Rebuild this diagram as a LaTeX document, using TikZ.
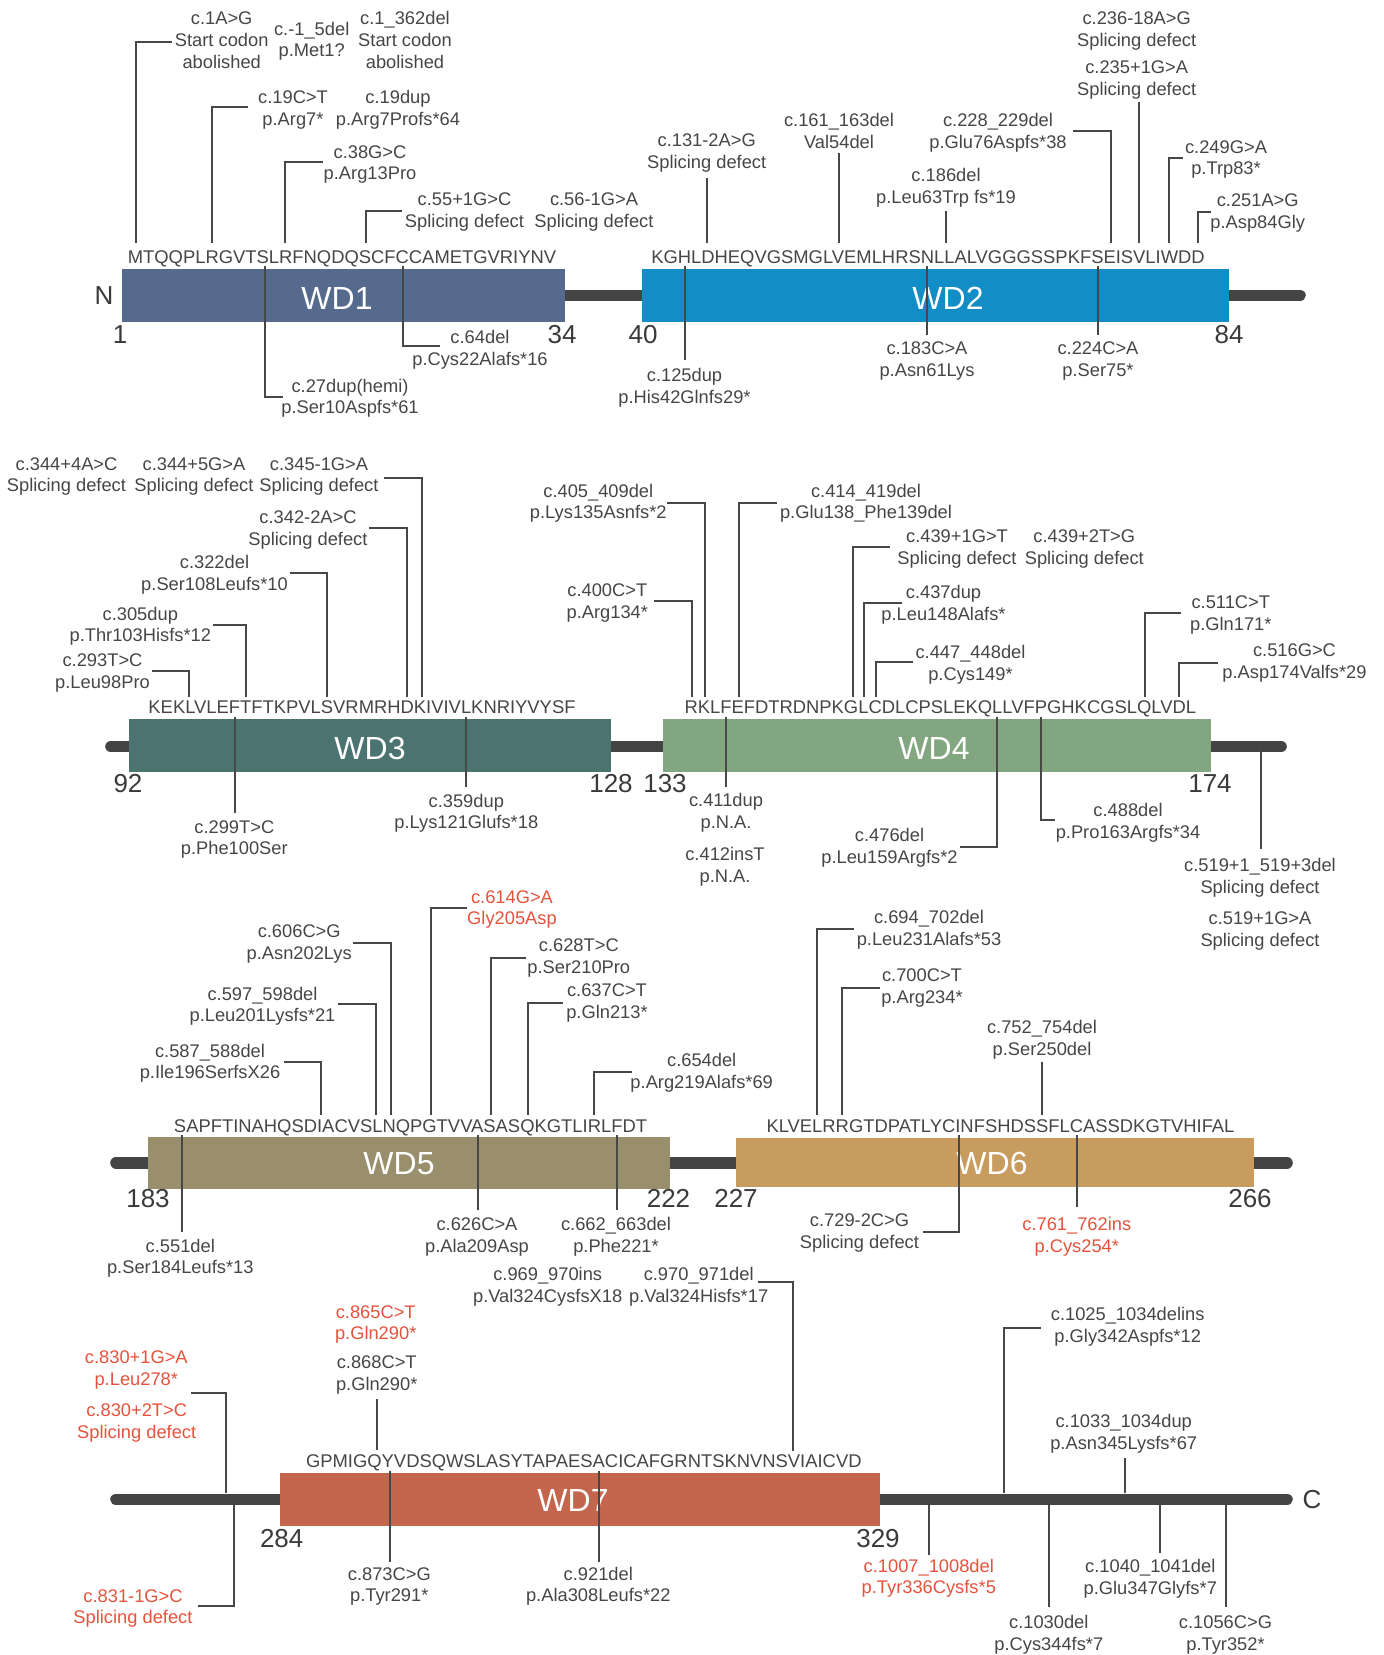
\documentclass[tikz,border=0pt]{standalone}
\usepackage{fontspec}
\setmainfont{Liberation Sans}
\definecolor{txt}{HTML}{464646}
\definecolor{numc}{HTML}{3A3A3A}
\definecolor{redt}{HTML}{E5533D}
\definecolor{bbc}{HTML}{444444}
\definecolor{clc}{HTML}{474747}
\definecolor{wdA}{HTML}{566A8E}
\definecolor{wdB}{HTML}{128DC5}
\definecolor{wdC}{HTML}{4B7471}
\definecolor{wdD}{HTML}{82A780}
\definecolor{wdE}{HTML}{9A8F6C}
\definecolor{wdF}{HTML}{C89C5F}
\definecolor{wdG}{HTML}{C4664D}
\newcommand{\ms}{\rule[-2.2pt]{0pt}{10.8pt}}
\newcommand{\cn}[4]{\coordinate (#1a) at (#2); \coordinate (#1b) at (#3); \draw[conn] (#1a) #4 (#1b);}
\begin{document}
\begin{tikzpicture}[x=0.5pt,y=-0.5pt,
  lbl/.style={font=\fontsize{9.15}{10.85}\selectfont, align=center, inner sep=0pt, text=txt},
  rlbl/.style={lbl, text=redt},
  seq/.style={font=\fontsize{9.2}{10.85}\selectfont, inner sep=0pt, text=txt},
  dom/.style={font=\fontsize{16}{18}\selectfont, text=white, inner sep=0pt},
  num/.style={font=\fontsize{13}{15}\selectfont, text=numc, inner sep=0pt},
  conn/.style={draw=clc, line width=1pt},
  backbone/.style={draw=bbc, line width=5.8pt, line cap=round}]
\useasboundingbox (0,0) rectangle (1384,1655);
\fill[white] (0,0) rectangle (1384,1655);

% ---------------- backbones and domains
\draw[backbone] (560,295.3) -- (1300,295.3);
\draw[backbone] (111,746.5) -- (1281,746.5);
\draw[backbone] (116,1162.7) -- (1287,1162.7);
\draw[backbone] (116,1499.3) -- (1287,1499.3);

\fill[wdA] (122,269) rectangle (565,322);
\fill[wdB] (642.3,269) rectangle (1229,322);
\fill[wdC] (129,719) rectangle (611,771.7);
\fill[wdD] (663.3,719) rectangle (1211,771.7);
\fill[wdE] (148.3,1137.3) rectangle (670,1189.3);
\fill[wdF] (735.7,1138.3) rectangle (1254,1187.3);
\fill[wdG] (280,1472.7) rectangle (880,1525.7);

\node[dom] (wd1) at (337,298) {WD1};
\node[dom] (wd2) at (948,298) {WD2};
\node[dom] (wd3) at (370,748) {WD3};
\node[dom] (wd4) at (934,748) {WD4};
\node[dom] (wd5) at (399,1163.3) {WD5};
\node[dom] (wd6) at (992,1163.3) {WD6};
\node[dom] (wd7) at (573,1500.7) {WD7};

\node[num] (nN) at (104,295.5) {N};
\node[num] (nC) at (1312,1499.3) {C};
\node[num] (n1) at (120,335) {1};
\node[num] (n34) at (562,335) {34};
\node[num] (n40) at (643,335) {40};
\node[num] (n84) at (1229,335) {84};
\node[num] (n92) at (128,783.3) {92};
\node[num] (n128) at (611,783.3) {128};
\node[num] (n133) at (665,783.3) {133};
\node[num] (n174) at (1210,783.3) {174};
\node[num] (n183) at (148,1198.5) {183};
\node[num] (n222) at (668.5,1198.5) {222};
\node[num] (n227) at (736,1198.5) {227};
\node[num] (n266) at (1250,1198.5) {266};
\node[num] (n284) at (281.7,1538.3) {284};
\node[num] (n329) at (878,1538.3) {329};

% ---------------- sequences
\node[seq] (sq1) at (342,257) {\ms MTQQPLRGVTSLRFNQDQSCFCCAMETGVRIYNV};
\node[seq] (sq2) at (928,257) {\ms KGHLDHEQVGSMGLVEMLHRSNLLALVGGGSSPKFSEISVLIWDD};
\node[seq] (sq3) at (362,707.3) {\ms KEKLVLEFTFTKPVLSVRMRHDKIVIVLKNRIYVYSF};
\node[seq] (sq4) at (940.3,707.3) {\ms RKLFEFDTRDNPKGLCDLCPSLEKQLLVFPGHKCGSLQLVDL};
\node[seq] (sq5) at (410.5,1126) {\ms SAPFTINAHQSDIACVSLNQPGTVVASASQKGTLIRLFDT};
\node[seq] (sq6) at (1000.5,1126) {\ms KLVELRRGTDPATLYCINFSHDSSFLCASSDKGTVHIFAL};
\node[seq] (sq7) at (583.8,1460.7) {\ms GPMIGQYVDSQWSLASYTAPAESACICAFGRNTSKNVNSVIAICVD};

% ---------------- row 1 labels
\node[lbl] (a1) at (221.7,40) {\ms c.1A>G\\\ms Start codon\\\ms abolished};
\node[lbl] (a2) at (311.7,39.5) {\ms c.-1\_5del\\\ms p.Met1?};
\node[lbl] (a3) at (405,40) {\ms c.1\_362del\\\ms Start codon\\\ms abolished};
\node[lbl] (a4) at (293,108.3) {\ms c.19C>T\\\ms p.Arg7*};
\node[lbl] (a5) at (398,108.3) {\ms c.19dup\\\ms p.Arg7Profs*64};
\node[lbl] (a6) at (370,162.5) {\ms c.38G>C\\\ms p.Arg13Pro};
\node[lbl] (a7) at (464.5,210) {\ms c.55+1G>C\\\ms Splicing defect};
\node[lbl] (a8) at (594,210) {\ms c.56-1G>A\\\ms Splicing defect};
\node[lbl] (a9) at (706.7,151.2) {\ms c.131-2A>G\\\ms Splicing defect};
\node[lbl] (a10) at (839,130.8) {\ms c.161\_163del\\\ms Val54del};
\node[lbl] (a11) at (946,185.8) {\ms c.186del\\\ms p.Leu63Trp fs*19};
\node[lbl] (a12) at (998,130.8) {\ms c.228\_229del\\\ms p.Glu76Aspfs*38};
\node[lbl] (a13) at (1136.7,29.2) {\ms c.236-18A>G\\\ms Splicing defect};
\node[lbl] (a14) at (1136.7,77.8) {\ms c.235+1G>A\\\ms Splicing defect};
\node[lbl] (a15) at (1226,157.5) {\ms c.249G>A\\\ms p.Trp83*};
\node[lbl] (a16) at (1257.7,210.8) {\ms c.251A>G\\\ms p.Asp84Gly};
\node[lbl] (a17) at (350,396.7) {\ms c.27dup(hemi)\\\ms p.Ser10Aspfs*61};
\node[lbl] (a18) at (480,347.8) {\ms c.64del\\\ms p.Cys22Alafs*16};
\node[lbl] (a19) at (684.5,386.2) {\ms c.125dup\\\ms p.His42Glnfs29*};
\node[lbl] (a20) at (927,359.2) {\ms c.183C>A\\\ms p.Asn61Lys};
\node[lbl] (a21) at (1098,359.2) {\ms c.224C>A\\\ms p.Ser75*};

% row 1 connectors
\cn{ca1}{135.7,243}{171.7,41.7}{|-}
\cn{ca4}{211.7,243}{248.3,106.7}{|-}
\cn{ca6}{285,243}{322.7,162.3}{|-}
\cn{ca7}{365.7,243}{402.3,210.7}{|-}
\cn{ca9}{706.7,243}{706.7,178.3}{--}
\cn{ca10}{839,243}{839,153.3}{--}
\cn{ca11}{946,243}{946,211}{--}
\cn{ca12}{1111,243}{1073.3,131}{|-}
\cn{ca14}{1139,243}{1139,102.3}{--}
\cn{ca15}{1169,243}{1183.3,157.7}{|-}
\cn{ca16}{1197.7,243}{1210.7,211.7}{|-}
\cn{ca17}{265,266}{283.3,396.7}{|-}
\cn{ca18}{402.7,266}{440,345.7}{|-}
\cn{ca19}{685,266}{685,360}{--}
\cn{ca20}{926.7,266}{926.7,335}{--}
\cn{ca21}{1098.3,266}{1098.3,335}{--}

% ---------------- row 2 labels
\node[lbl] (b1) at (66.5,474.5) {\ms c.344+4A>C\\\ms Splicing defect};
\node[lbl] (b2) at (194,474.5) {\ms c.344+5G>A\\\ms Splicing defect};
\node[lbl] (b3) at (319,474.5) {\ms c.345-1G>A\\\ms Splicing defect};
\node[lbl] (b4) at (308,527.8) {\ms c.342-2A>C\\\ms Splicing defect};
\node[lbl] (b5) at (214.5,572.8) {\ms c.322del\\\ms p.Ser108Leufs*10};
\node[lbl] (b6) at (140.3,624.5) {\ms c.305dup\\\ms p.Thr103Hisfs*12};
\node[lbl] (b7) at (102.5,670.8) {\ms c.293T>C\\\ms p.Leu98Pro};
\node[lbl] (b8) at (598.3,501.7) {\ms c.405\_409del\\\ms p.Lys135Asnfs*2};
\node[lbl] (b9) at (607.3,600.8) {\ms c.400C>T\\\ms p.Arg134*};
\node[lbl] (b10) at (866,501.7) {\ms c.414\_419del\\\ms p.Glu138\_Phe139del};
\node[lbl] (b11) at (957,547.2) {\ms c.439+1G>T\\\ms Splicing defect};
\node[lbl] (b12) at (1084.3,547.2) {\ms c.439+2T>G\\\ms Splicing defect};
\node[lbl] (b13) at (943.5,602.8) {\ms c.437dup\\\ms p.Leu148Alafs*};
\node[lbl] (b14) at (970.5,663.3) {\ms c.447\_448del\\\ms p.Cys149*};
\node[lbl] (b15) at (1230.8,612.8) {\ms c.511C>T\\\ms p.Gln171*};
\node[lbl] (b16) at (1294.5,660.8) {\ms c.516G>C\\\ms p.Asp174Valfs*29};
\node[lbl] (b17) at (234.3,837.5) {\ms c.299T>C\\\ms p.Phe100Ser};
\node[lbl] (b18) at (466.3,811.7) {\ms c.359dup\\\ms p.Lys121Glufs*18};
\node[lbl] (b19) at (726,811.2) {\ms c.411dup\\\ms p.N.A.};
\node[lbl] (b20) at (725,864.8) {\ms c.412insT\\\ms p.N.A.};
\node[lbl] (b21) at (889.5,845.8) {\ms c.476del\\\ms p.Leu159Argfs*2};
\node[lbl] (b22) at (1128,820.8) {\ms c.488del\\\ms p.Pro163Argfs*34};
\node[lbl] (b23) at (1260,875.8) {\ms c.519+1\_519+3del\\\ms Splicing defect};
\node[lbl] (b24) at (1260,929.2) {\ms c.519+1G>A\\\ms Splicing defect};

% row 2 connectors
\cn{cb3}{421.7,696.7}{384.3,477.7}{|-}
\cn{cb4}{406.7,696.7}{369.3,527.7}{|-}
\cn{cb5}{326.7,696.7}{290,572.7}{|-}
\cn{cb6}{245.7,696.7}{213.3,625}{|-}
\cn{cb7}{189,696.7}{152.3,670.7}{|-}
\cn{cb8}{705,696.7}{667.3,503.3}{|-}
\cn{cb9}{691.7,696.7}{654,600.7}{|-}
\cn{cb10}{739,696.7}{776.7,503.3}{|-}
\cn{cb11}{852.7,696.7}{890,547.3}{|-}
\cn{cb13}{864.3,696.7}{901.7,602.7}{|-}
\cn{cb14}{875.7,696.7}{912.7,662.3}{|-}
\cn{cb15}{1145,696.7}{1181,613.3}{|-}
\cn{cb16}{1179,696.7}{1217.7,662.7}{|-}
\cn{cb17}{235,716.7}{235,813.3}{--}
\cn{cb18}{465.7,716.7}{465.7,786.7}{--}
\cn{cb19}{726,716.7}{726,786.7}{--}
\cn{cb21}{996.7,716.7}{960,847.3}{|-}
\cn{cb22}{1041,716.7}{1055,820}{|-}
\cn{cb23}{1261,746.3}{1261,849.3}{--}

% ---------------- row 3 labels
\node[lbl] (c1) at (299.2,941.8) {\ms c.606C>G\\\ms p.Asn202Lys};
\node[lbl] (c2) at (262.5,1004.5) {\ms c.597\_598del\\\ms p.Leu201Lysfs*21};
\node[lbl] (c3) at (210,1061.7) {\ms c.587\_588del\\\ms p.Ile196SerfsX26};
\node[rlbl] (c4) at (512,907.5) {\ms c.614G>A\\\ms Gly205Asp};
\node[lbl] (c5) at (578.8,955.8) {\ms c.628T>C\\\ms p.Ser210Pro};
\node[lbl] (c6) at (607,1000.8) {\ms c.637C>T\\\ms p.Gln213*};
\node[lbl] (c7) at (701.7,1070.8) {\ms c.654del\\\ms p.Arg219Alafs*69};
\node[lbl] (c8) at (929,927.8) {\ms c.694\_702del\\\ms p.Leu231Alafs*53};
\node[lbl] (c9) at (922,985.8) {\ms c.700C>T\\\ms p.Arg234*};
\node[lbl] (c10) at (1042,1037.8) {\ms c.752\_754del\\\ms p.Ser250del};
\node[lbl] (c11) at (180.3,1256.7) {\ms c.551del\\\ms p.Ser184Leufs*13};
\node[lbl] (c12) at (477,1234.8) {\ms c.626C>A\\\ms p.Ala209Asp};
\node[lbl] (c13) at (616,1234.8) {\ms c.662\_663del\\\ms p.Phe221*};
\node[lbl] (c14) at (859.5,1230.8) {\ms c.729-2C>G\\\ms Splicing defect};
\node[rlbl] (c15) at (1076.8,1234.8) {\ms c.761\_762ins\\\ms p.Cys254*};

% row 3 connectors
\cn{cc1}{391,1115}{353.3,942.7}{|-}
\cn{cc2}{376,1115}{338.3,1004}{|-}
\cn{cc3}{321,1115}{284.3,1062.3}{|-}
\cn{cc4}{431,1115}{466.7,907.7}{|-}
\cn{cc5}{490.7,1115}{526,957.7}{|-}
\cn{cc6}{527.7,1115}{562.7,1002.7}{|-}
\cn{cc7}{594,1115}{631.7,1071.7}{|-}
\cn{cc8}{816.7,1115}{854.3,929}{|-}
\cn{cc9}{841.7,1115}{880,987.7}{|-}
\cn{cc10}{1042.3,1115}{1042.3,1062.3}{--}
\cn{cc11}{182,1135}{182,1232.3}{--}
\cn{cc12}{477.7,1135}{477.7,1210}{--}
\cn{cc13}{616.7,1135}{616.7,1210}{--}
\cn{cc14}{959,1135}{923.3,1232.3}{|-}
\cn{cc15}{1076.7,1135}{1076.7,1207.3}{--}

% ---------------- row 4 labels
\node[rlbl] (d1) at (136.3,1368.2) {\ms c.830+1G>A\\\ms p.Leu278*};
\node[rlbl] (d2) at (136.7,1421.2) {\ms c.830+2T>C\\\ms Splicing defect};
\node[rlbl] (d3) at (375.7,1322.5) {\ms c.865C>T\\\ms p.Gln290*};
\node[lbl] (d4) at (376.7,1373.3) {\ms c.868C>T\\\ms p.Gln290*};
\node[lbl] (d5) at (547.7,1285) {\ms c.969\_970ins\\\ms p.Val324CysfsX18};
\node[lbl] (d6) at (698.7,1285) {\ms c.970\_971del\\\ms p.Val324Hisfs*17};
\node[lbl] (d7) at (1127.7,1325.2) {\ms c.1025\_1034delins\\\ms p.Gly342Aspfs*12};
\node[lbl] (d8) at (1123.7,1432.2) {\ms c.1033\_1034dup\\\ms p.Asn345Lysfs*67};
\node[rlbl] (d9) at (133,1606.7) {\ms c.831-1G>C\\\ms Splicing defect};
\node[lbl] (d10) at (389.3,1584.5) {\ms c.873C>G\\\ms p.Tyr291*};
\node[lbl] (d11) at (598.3,1584.5) {\ms c.921del\\\ms p.Ala308Leufs*22};
\node[rlbl] (d12) at (928.8,1576.7) {\ms c.1007\_1008del\\\ms p.Tyr336Cysfs*5};
\node[lbl] (d13) at (1048.8,1632.8) {\ms c.1030del\\\ms p.Cys344fs*7};
\node[lbl] (d14) at (1150.3,1577) {\ms c.1040\_1041del\\\ms p.Glu347Glyfs*7};
\node[lbl] (d15) at (1225.5,1632.8) {\ms c.1056C>G\\\ms p.Tyr352*};

% row 4 connectors
\cn{cd1}{226,1493.3}{191,1392.7}{|-}
\cn{cd4}{376.7,1450}{376.7,1399.3}{--}
\cn{cd6}{792.7,1450.7}{758.3,1282.3}{|-}
\cn{cd7}{1004,1493.3}{1041,1328.3}{|-}
\cn{cd8}{1125,1493.3}{1125,1458.3}{--}
\cn{cd9}{234.3,1505}{198.3,1605.7}{|-}
\cn{cd10}{390,1470.5}{390,1561.7}{--}
\cn{cd11}{599,1470.5}{599,1561.7}{--}
\cn{cd12}{929,1505}{929,1555}{--}
\cn{cd13}{1049,1505}{1049,1606.7}{--}
\cn{cd14}{1160,1505}{1160,1552.7}{--}
\cn{cd15}{1226,1505}{1226,1607.3}{--}
\end{tikzpicture}
\end{document}
